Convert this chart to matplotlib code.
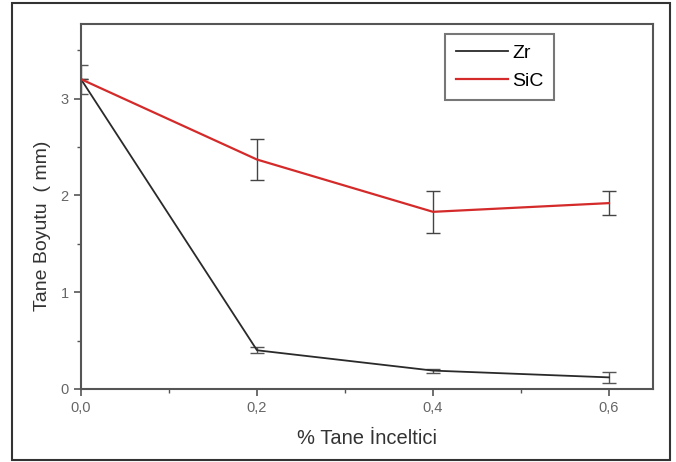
import matplotlib
matplotlib.use("Agg")
import matplotlib.pyplot as plt
from matplotlib.patches import Rectangle
from matplotlib.ticker import MultipleLocator, FuncFormatter

x = [0.0, 0.2, 0.4, 0.6]
zr = [3.20, 0.40, 0.19, 0.12]
zr_err = [0.15, 0.03, 0.02, 0.06]
sic = [3.20, 2.37, 1.83, 1.92]
sic_err = [0.0, 0.21, 0.22, 0.12]
xticks = [0.0, 0.2, 0.4, 0.6]
yticks = [0, 1, 2, 3]

plt.rcParams['font.family'] = ['Liberation Sans', 'DejaVu Sans']

W, H = 676, 462
fig = plt.figure(figsize=(W / 100, H / 100), dpi=100)
fig.patches.append(Rectangle((12 / W, 1 - 460 / H), (670 - 12) / W, (460 - 3) / H,
                             transform=fig.transFigure, fill=False,
                             edgecolor="#333333", linewidth=1.5))
ax = fig.add_axes([81 / W, 1 - 389 / H, (653 - 81) / W, (389 - 24) / H])

axis_col = "#555555"
ax.errorbar(x, zr, yerr=zr_err, color="#2a2a2a", lw=1.3, ecolor="#555555",
            elinewidth=1.0, capsize=5, capthick=1.0, label="Zr")
ax.errorbar(x, sic, yerr=sic_err, color="#d42a2a", lw=1.6, ecolor="#444444",
            elinewidth=1.0, capsize=5, capthick=1.0, label="SiC")

ax.set_xlim(0.0, 0.65)
ax.set_ylim(0, 3.77)
ax.set_xticks(xticks)
ax.set_yticks(yticks)
ax.xaxis.set_minor_locator(MultipleLocator(0.1))
ax.yaxis.set_minor_locator(MultipleLocator(0.5))
ax.xaxis.set_major_formatter(FuncFormatter(lambda v, p: f"{v:.1f}".replace(".", ",")))
ax.tick_params(which="major", direction="out", length=5, width=1.2, color=axis_col,
               labelsize=10.5, labelcolor="#666666", pad=4)
ax.tick_params(which="minor", direction="out", length=3, width=1.0, color=axis_col)
for s in ax.spines.values():
    s.set_color(axis_col)
    s.set_linewidth(1.5)

ax.set_xlabel("% Tane İnceltici", fontsize=14.5, color="#333333")
ax.xaxis.set_label_coords((367 - 81) / 572, -(429 - 389) / 365)
ax.set_ylabel("Tane Boyutu  ( mm)", fontsize=14, color="#333333")
ax.yaxis.set_label_coords(-(81 - 51) / 572, (389 - 226) / 365)

handles, labels = ax.get_legend_handles_labels()
handles = [h[0] for h in handles]
leg = ax.legend(handles, labels, loc="upper right",
                bbox_to_anchor=((554 - 81) / 572, (389 - 34) / 365),
                borderaxespad=0, fontsize=14, frameon=True, fancybox=False,
                handlelength=2.7, handletextpad=0.2, borderpad=0.55, labelspacing=0.5)
leg.get_frame().set_edgecolor("#555555")
leg.get_frame().set_linewidth(1.5)

fig.savefig("out.png", dpi=100)
